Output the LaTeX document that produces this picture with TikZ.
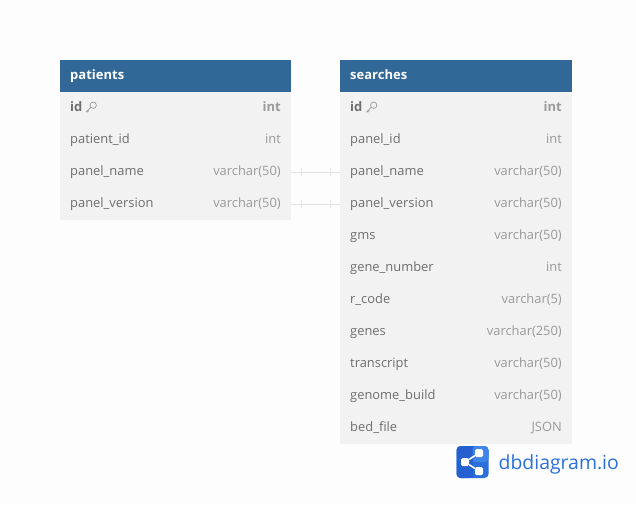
\documentclass[tikz,border=0pt]{standalone}
\usepackage{fontspec}
\usepackage{xcolor}
\setmainfont{Open Sans}
\definecolor{headblue}{HTML}{316897}
\definecolor{rowgrey}{HTML}{F2F2F2}
\definecolor{pagegrey}{HTML}{FDFDFD}
\definecolor{textgrey}{HTML}{6E6E6E}
\definecolor{typegrey}{HTML}{9A9A9A}
\definecolor{linegrey}{HTML}{E3E3E3}
\definecolor{logoblue}{HTML}{2A6FDB}
\definecolor{logodark}{HTML}{2460CF}
\definecolor{logolight}{HTML}{3F84E8}

\begin{document}
\begin{tikzpicture}[x=1pt, y=-1pt, every node/.style={font=\fontsize{12.9}{15}\selectfont}]
    \tikzset{
        header/.style={rectangle, fill=headblue, minimum height=32pt, inner sep=0pt, anchor=north west},
        headtext/.style={text=white, font=\fontsize{13}{15}\selectfont\bfseries, anchor=base west, inner sep=0pt},
        rowbox/.style={rectangle, fill=rowgrey, minimum height=32pt, inner sep=0pt, anchor=north west},
        fieldname/.style={text=textgrey, anchor=base west, inner sep=0pt},
        fieldtype/.style={text=typegrey, anchor=base east, inner sep=0pt},
        keyname/.style={fieldname, font=\fontsize{13}{15}\selectfont\bfseries},
        keytype/.style={fieldtype, font=\fontsize{13}{15}\selectfont\bfseries},
        relation/.style={draw=linegrey, line width=1.3pt},
        tick/.style={draw=linegrey, rectangle, inner sep=0pt, minimum width=0pt, minimum height=8pt, line width=0.8pt},
        keyicon/.style={draw=typegrey, line width=0.7pt}
    }

    \useasboundingbox[fill=pagegrey] (0,0) rectangle (636,504);

    % patients
    \node[header, minimum width=231pt] (patients) at (60,60) {};
    \node[headtext] (patientstitle) at (70,79) {patients};
    \node[rowbox, minimum width=231pt] (pid) at (60,92) {};
    \node[keyname] (pidlabel) at (70,111) {id};
    \node[keytype] (pidtype) at (281,111) {int};
    \foreach \row/\name/\type [count=\i from 0] in {
        patientid/patient_id/int,
        pname/panel_name/varchar(50),
        pversion/panel_version/varchar(50)} {
        \node[rowbox, minimum width=231pt] (\row) at (60,124+32*\i) {};
        \node[fieldname] (\row label) at (70,143+32*\i) {\detokenize\expandafter{\name}};
        \node[fieldtype] (\row type) at (281,143+32*\i) {\type};
    }

    % searches
    \node[header, minimum width=232pt] (searches) at (340,60) {};
    \node[headtext] (searchestitle) at (350,79) {searches};
    \node[rowbox, minimum width=232pt] (sid) at (340,92) {};
    \node[keyname] (sidlabel) at (350,111) {id};
    \node[keytype] (sidtype) at (562,111) {int};
    \foreach \row/\name/\type [count=\i from 0] in {
        spanelid/panel_id/int,
        sname/panel_name/varchar(50),
        sversion/panel_version/varchar(50),
        sgms/gms/varchar(50),
        sgene/gene_number/int,
        srcode/r_code/varchar(5),
        sgenes/genes/varchar(250),
        stranscript/transcript/varchar(50),
        sbuild/genome_build/varchar(50),
        sbed/bed_file/JSON} {
        \node[rowbox, minimum width=232pt] (\row) at (340,124+32*\i) {};
        \node[fieldname] (\row label) at (350,143+32*\i) {\detokenize\expandafter{\name}};
        \node[fieldtype] (\row type) at (562,143+32*\i) {\type};
    }

    % key icons
    \foreach \kx in {91,371.5} {
        \draw[keyicon] (\kx+2.2,105.2) circle (3.2pt);
        \draw[keyicon] (\kx-0.2,107.4) -- (\kx-4.6,111.8) -- (\kx-3,112) (\kx-3.4,110.6) -- (\kx-2,111.2);
    }

    % relations
    \foreach \from/\to in {pname/sname, pversion/sversion} {
        \draw[relation] (\from.east) -- (\to.west)
            node[tick, pos=0.2] (\from tickA) {}
            node[tick, pos=0.8] (\from tickB) {};
    }

    % logo
    \node[rectangle, rounded corners=4pt, fill=logoblue, minimum size=32pt, inner sep=0pt] (logo) at (472.5,462) {};
    \fill[logodark, rounded corners=4pt] (456.5,446) rectangle (472.5,478);
    \fill[logodark] (468,446) rectangle (472.5,478);
    \fill[logolight, rounded corners=4pt] (472.5,446) rectangle (488.5,462);
    \fill[logolight] (472.5,450) rectangle (477,462);
    \node[rectangle, rounded corners=1.5pt, fill=white, minimum size=8pt, inner sep=0pt] (hub) at (465,462) {};
    \node[rectangle, rounded corners=1.5pt, fill=white, minimum size=8pt, inner sep=0pt] (leafa) at (479,453) {};
    \node[rectangle, rounded corners=1.5pt, fill=white, minimum size=8pt, inner sep=0pt] (leafb) at (479,471) {};
    \draw[white, line width=1.6pt] (leafa) -- (hub) -- (leafb);
    \node[anchor=base west, inner sep=0pt, text=logoblue, font=\fontsize{19.4}{21}\selectfont] (logotext) at (498.5,469) {dbdiagram.io};
\end{tikzpicture}
\end{document}
